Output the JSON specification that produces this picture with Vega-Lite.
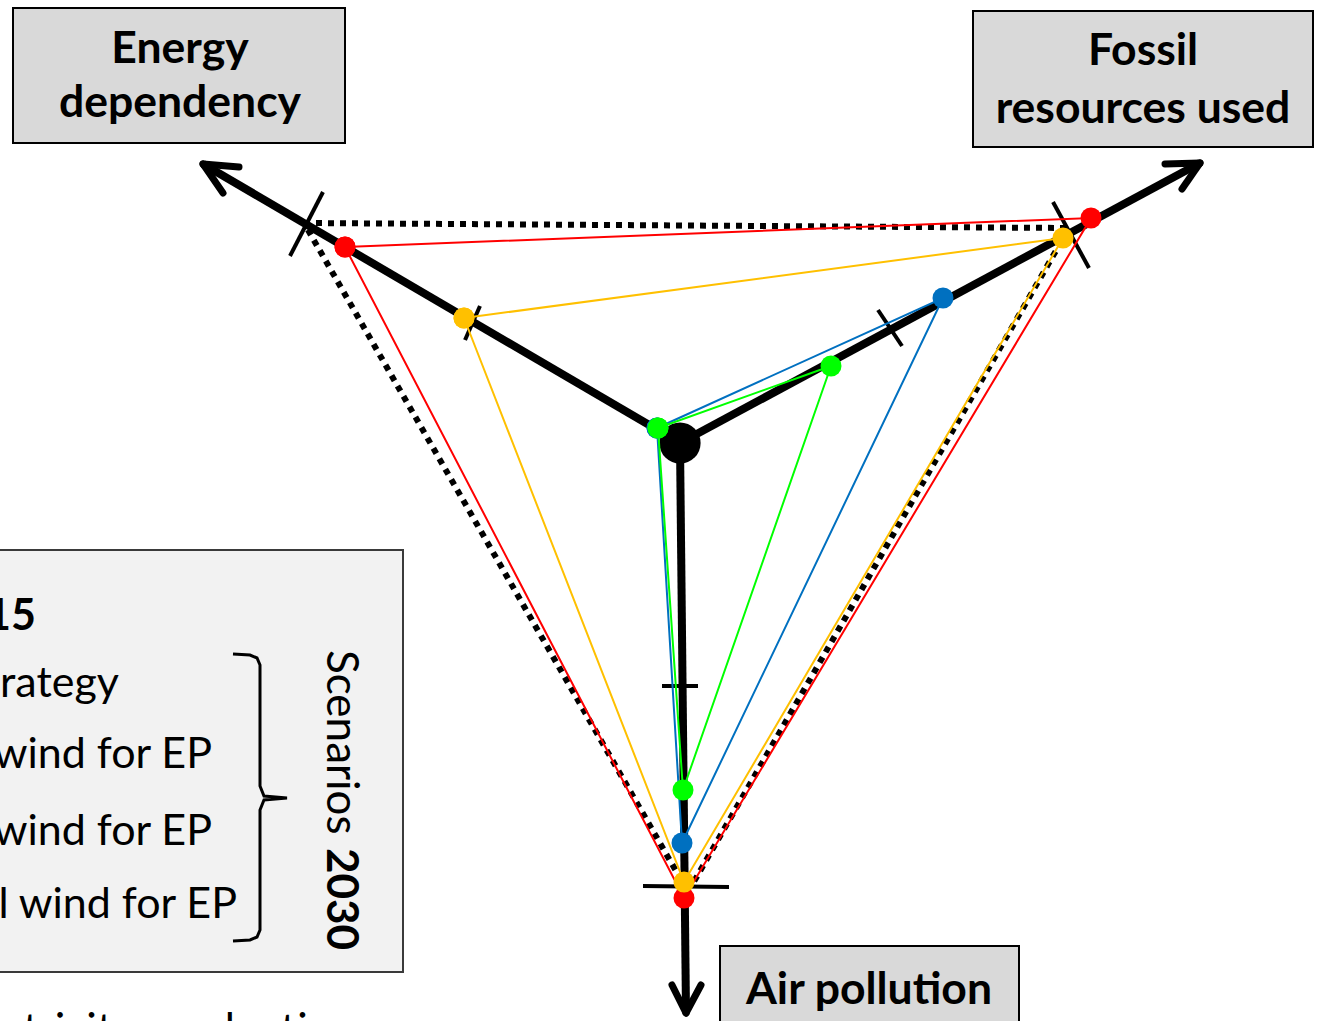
{
  "$schema": "https://vega.github.io/schema/vega-lite/v6.json",
  "width": 1318,
  "height": 1021,
  "autosize": {"type": "none"},
  "padding": 0,
  "background": "white",
  "config": {"view": {"stroke": null}},
  "datasets": {
    "legendBox": [{"x": -690, "x2": -277, "y": -107, "y2": -529}],
    "titleBoxes": [
      {"x": -667, "x2": -335, "y": 435, "y2": 300},
      {"x": 293, "x2": 633, "y": 432, "y2": 296},
      {"x": 40, "x2": 339, "y": -503, "y2": -590}
    ],
    "titleText": [
      {"x": -500, "y": 380, "t": "Energy"},
      {"x": -500, "y": 326, "t": "dependency"},
      {"x": 463, "y": 378, "t": "Fossil"},
      {"x": 463, "y": 320, "t": "resources used"},
      {"x": 189, "y": -561, "t": "Air pollution"}
    ],
    "legendText": [
      {"x": -561, "y": -254, "t": "rategy"},
      {"x": -468, "y": -325, "t": "wind for EP"},
      {"x": -468, "y": -402, "t": "wind for EP"},
      {"x": -443, "y": -475, "t": "l wind for EP"}
    ],
    "legendBold": [{"x": -644, "y": -187, "t": "15"}],
    "scenText": [{"x": -353, "y": -207, "t": "Scenarios"}],
    "scenBold": [{"x": -353, "y": -405, "t": "2030"}],
    "bottomText": [{"x": -678, "y": -567, "t": "ctricity production"}],
    "brace": [
      {"o": 1, "x": -447, "y": -211},
      {"o": 2, "x": -430, "y": -212},
      {"o": 3, "x": -423, "y": -215},
      {"o": 4, "x": -420, "y": -222},
      {"o": 5, "x": -420, "y": -343},
      {"o": 6, "x": -416, "y": -353},
      {"o": 7, "x": -393, "y": -355},
      {"o": 8, "x": -416, "y": -357},
      {"o": 9, "x": -420, "y": -367},
      {"o": 10, "x": -420, "y": -487},
      {"o": 11, "x": -423, "y": -494},
      {"o": 12, "x": -430, "y": -497},
      {"o": 13, "x": -447, "y": -498}
    ],
    "dotted": [
      {"o": 1, "x": -376, "y": 220},
      {"o": 2, "x": 389, "y": 215},
      {"o": 3, "x": 12, "y": -442},
      {"o": 4, "x": 4, "y": -442},
      {"o": 5, "x": -376, "y": 220}
    ],
    "axes": [
      {"x": 0, "y": 0, "x2": -477, "y2": 279},
      {"x": 0, "y": 0, "x2": 520, "y2": 280},
      {"x": 0, "y": 0, "x2": 6, "y2": -570}
    ],
    "heads": [
      {"x": -477, "y": 279, "x2": -441, "y2": 276},
      {"x": -477, "y": 279, "x2": -457, "y2": 250},
      {"x": 520, "y": 280, "x2": 485, "y2": 279},
      {"x": 520, "y": 280, "x2": 502, "y2": 254},
      {"x": 6, "y": -570, "x2": -8, "y2": -542},
      {"x": 6, "y": -570, "x2": 21, "y2": -542}
    ],
    "ticks": [
      {"x": -357, "y": 251, "x2": -390, "y2": 187},
      {"x": -200, "y": 137, "x2": -215, "y2": 103},
      {"x": 373, "y": 241, "x2": 409, "y2": 175},
      {"x": 198, "y": 133, "x2": 222, "y2": 97},
      {"x": -18, "y": -243, "x2": 18, "y2": -243},
      {"x": -37, "y": -443, "x2": 49, "y2": -444}
    ],
    "center": [{"x": 0, "y": 0}],
    "sc": [
      {"s": "red", "o": 1, "x": -335, "y": 196},
      {"s": "red", "o": 2, "x": 411, "y": 225},
      {"s": "red", "o": 3, "x": 4, "y": -455},
      {"s": "red", "o": 4, "x": -335, "y": 196},
      {"s": "orange", "o": 1, "x": -216, "y": 125},
      {"s": "orange", "o": 2, "x": 383, "y": 205},
      {"s": "orange", "o": 3, "x": 4, "y": -439},
      {"s": "orange", "o": 4, "x": -216, "y": 125},
      {"s": "blue", "o": 1, "x": -23, "y": 15},
      {"s": "blue", "o": 2, "x": 263, "y": 145},
      {"s": "blue", "o": 3, "x": 2, "y": -400},
      {"s": "blue", "o": 4, "x": -23, "y": 15},
      {"s": "green", "o": 1, "x": -22, "y": 15},
      {"s": "green", "o": 2, "x": 151, "y": 77},
      {"s": "green", "o": 3, "x": 3, "y": -347},
      {"s": "green", "o": 4, "x": -22, "y": 15}
    ]
  },
  "encoding": {
    "x": {"field": "x", "type": "quantitative", "scale": {"domain": [-680, 638], "nice": false, "zero": false}, "axis": null},
    "y": {"field": "y", "type": "quantitative", "scale": {"domain": [-578, 443], "nice": false, "zero": false}, "axis": null}
  },
  "layer": [
    {
      "data": {"name": "legendBox"},
      "mark": {"type": "rect", "fill": "#F2F2F2", "stroke": "#3A3A3A", "strokeWidth": 2},
      "encoding": {"x2": {"field": "x2"}, "y2": {"field": "y2"}}
    },
    {
      "data": {"name": "titleBoxes"},
      "mark": {"type": "rect", "fill": "#D9D9D9", "stroke": "#000000", "strokeWidth": 2},
      "encoding": {"x2": {"field": "x2"}, "y2": {"field": "y2"}}
    },
    {
      "data": {"name": "titleText"},
      "mark": {"type": "text", "font": "Lato", "fontWeight": "bold", "fontSize": 44.5, "align": "center", "baseline": "alphabetic", "color": "#000000"},
      "encoding": {"text": {"field": "t"}}
    },
    {
      "data": {"name": "legendText"},
      "mark": {"type": "text", "font": "Lato", "fontSize": 43, "align": "right", "baseline": "alphabetic", "color": "#000000"},
      "encoding": {"text": {"field": "t"}}
    },
    {
      "data": {"name": "legendBold"},
      "mark": {"type": "text", "font": "Lato", "fontWeight": "bold", "fontSize": 43, "align": "right", "baseline": "alphabetic", "color": "#000000"},
      "encoding": {"text": {"field": "t"}}
    },
    {
      "data": {"name": "scenText"},
      "mark": {"type": "text", "font": "Lato", "fontSize": 44, "angle": 90, "align": "left", "baseline": "alphabetic", "color": "#000000"},
      "encoding": {"text": {"field": "t"}}
    },
    {
      "data": {"name": "scenBold"},
      "mark": {"type": "text", "font": "Lato", "fontWeight": "bold", "fontSize": 44, "angle": 90, "align": "left", "baseline": "alphabetic", "color": "#000000"},
      "encoding": {"text": {"field": "t"}}
    },
    {
      "data": {"name": "bottomText"},
      "mark": {"type": "text", "font": "Lato", "fontSize": 44, "align": "left", "baseline": "top", "color": "#000000"},
      "encoding": {"text": {"field": "t"}}
    },
    {
      "data": {"name": "brace"},
      "mark": {"type": "line", "color": "#000000", "strokeWidth": 3},
      "encoding": {"order": {"field": "o", "type": "quantitative"}}
    },
    {
      "data": {"name": "dotted"},
      "mark": {"type": "line", "color": "#000000", "strokeWidth": 6, "strokeDash": [6, 6]},
      "encoding": {"order": {"field": "o", "type": "quantitative"}}
    },
    {
      "data": {"name": "axes"},
      "mark": {"type": "rule", "color": "#000000", "strokeWidth": 8},
      "encoding": {"x2": {"field": "x2"}, "y2": {"field": "y2"}}
    },
    {
      "data": {"name": "heads"},
      "mark": {"type": "rule", "color": "#000000", "strokeWidth": 7, "strokeCap": "round"},
      "encoding": {"x2": {"field": "x2"}, "y2": {"field": "y2"}}
    },
    {
      "data": {"name": "ticks"},
      "mark": {"type": "rule", "color": "#000000", "strokeWidth": 4},
      "encoding": {"x2": {"field": "x2"}, "y2": {"field": "y2"}}
    },
    {
      "data": {"name": "center"},
      "mark": {"type": "point", "shape": "circle", "filled": true, "opacity": 1, "color": "#000000", "size": 1700}
    },
    {
      "data": {"name": "sc"},
      "mark": {"type": "line", "strokeWidth": 2},
      "encoding": {
        "order": {"field": "o", "type": "quantitative"},
        "color": {"field": "s", "type": "nominal", "scale": {"domain": ["red", "orange", "blue", "green"], "range": ["#FF0000", "#FFC000", "#0070C0", "#00FF00"]}, "legend": null}
      }
    },
    {
      "data": {"name": "sc"},
      "mark": {"type": "point", "shape": "circle", "filled": true, "opacity": 1, "size": 441},
      "encoding": {
        "color": {"field": "s", "type": "nominal", "scale": {"domain": ["red", "orange", "blue", "green"], "range": ["#FF0000", "#FFC000", "#0070C0", "#00FF00"]}, "legend": null}
      }
    }
  ]
}
